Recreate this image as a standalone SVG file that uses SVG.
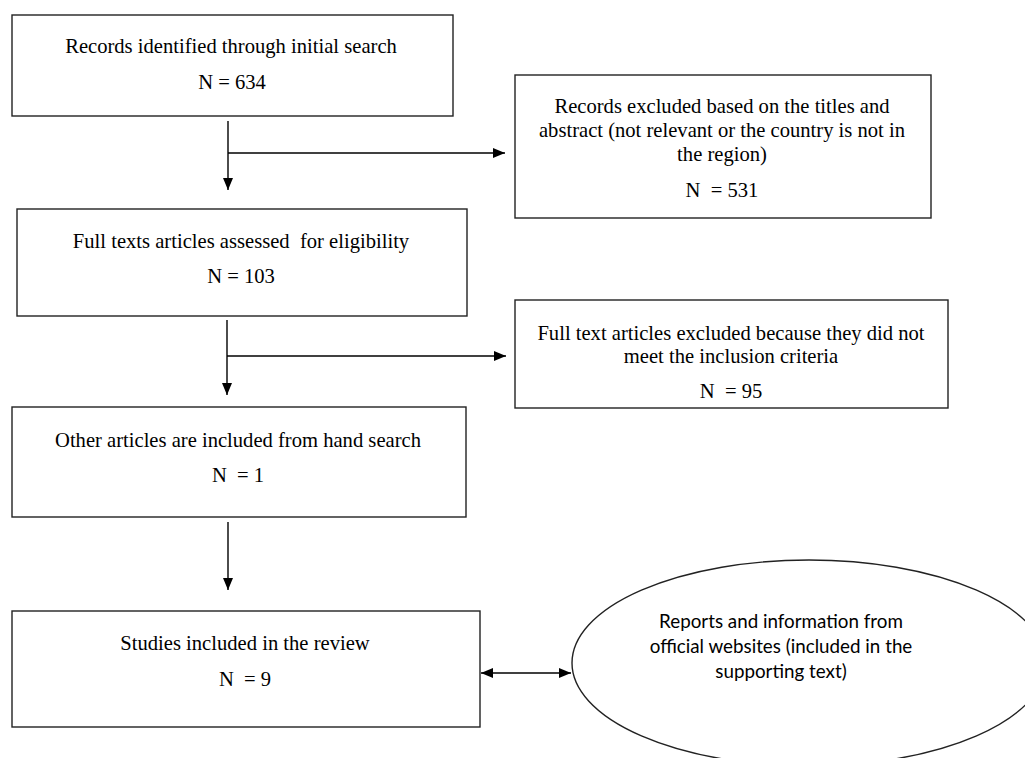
<svg xmlns="http://www.w3.org/2000/svg" width="1025" height="758" viewBox="0 0 1025 758">
<style>
.box{fill:#fff;stroke:#222;stroke-width:1.4}
.t{font-family:"Liberation Serif","Times New Roman",serif;font-size:20.6px;fill:#000;text-anchor:middle;white-space:pre}
.s{font-family:Lato,"Open Sans",sans-serif;font-size:18.8px;fill:#000;text-anchor:middle}
.c{stroke:#000;stroke-width:1.4;fill:none}
</style>
<defs>
<marker id="ah" viewBox="0 0 12 10" refX="12" refY="5" markerWidth="12" markerHeight="10" markerUnits="userSpaceOnUse" orient="auto-start-reverse">
<path d="M0,0 L12,5 L0,10 Z" fill="#000"/>
</marker>
</defs>
<rect width="1025" height="758" fill="#fff"/>
<g id="connectors">
<line class="c" x1="228" y1="121" x2="228" y2="190" marker-end="url(#ah)"/>
<line class="c" x1="228" y1="153" x2="505" y2="153" marker-end="url(#ah)"/>
<line class="c" x1="227" y1="320" x2="227" y2="395" marker-end="url(#ah)"/>
<line class="c" x1="227" y1="356" x2="506" y2="356" marker-end="url(#ah)"/>
<line class="c" x1="228" y1="522" x2="228" y2="590" marker-end="url(#ah)"/>
<line class="c" x1="481" y1="673" x2="571" y2="673" marker-start="url(#ah)" marker-end="url(#ah)"/>
</g>
<g id="n1">
<rect class="box" x="12" y="15" width="441" height="101"/>
<text class="t" x="231" y="53">Records identified through initial search</text>
<text class="t" x="232" y="89">N = 634</text>
</g>
<g id="n2">
<rect class="box" x="515" y="75" width="416" height="143"/>
<text class="t" x="722" y="113">Records excluded based on the titles and</text>
<text class="t" x="722" y="137">abstract (not relevant or the country is not in</text>
<text class="t" x="722" y="161">the region)</text>
<text class="t" x="722" y="197">N  = 531</text>
</g>
<g id="n3">
<rect class="box" x="17" y="209" width="450" height="107"/>
<text class="t" x="241" y="248">Full texts articles assessed  for eligibility</text>
<text class="t" x="241" y="283">N = 103</text>
</g>
<g id="n4">
<rect class="box" x="515" y="300" width="433" height="108"/>
<text class="t" x="731" y="340">Full text articles excluded because they did not</text>
<text class="t" x="731" y="363">meet the inclusion criteria</text>
<text class="t" x="731" y="398">N  = 95</text>
</g>
<g id="n5">
<rect class="box" x="12" y="407" width="454" height="110"/>
<text class="t" x="238" y="447">Other articles are included from hand search</text>
<text class="t" x="238" y="482">N  = 1</text>
</g>
<g id="n6">
<rect class="box" x="12" y="611" width="468" height="116"/>
<text class="t" x="245" y="650">Studies included in the review</text>
<text class="t" x="245" y="686">N  = 9</text>
</g>
<g id="n7">
<ellipse class="box" cx="809" cy="663" rx="237" ry="103"/>
<text class="s" x="781" y="628">Reports and information from</text>
<text class="s" x="781" y="653">official websites (included in the</text>
<text class="s" x="781" y="678">supporting text)</text>
</g>
</svg>
